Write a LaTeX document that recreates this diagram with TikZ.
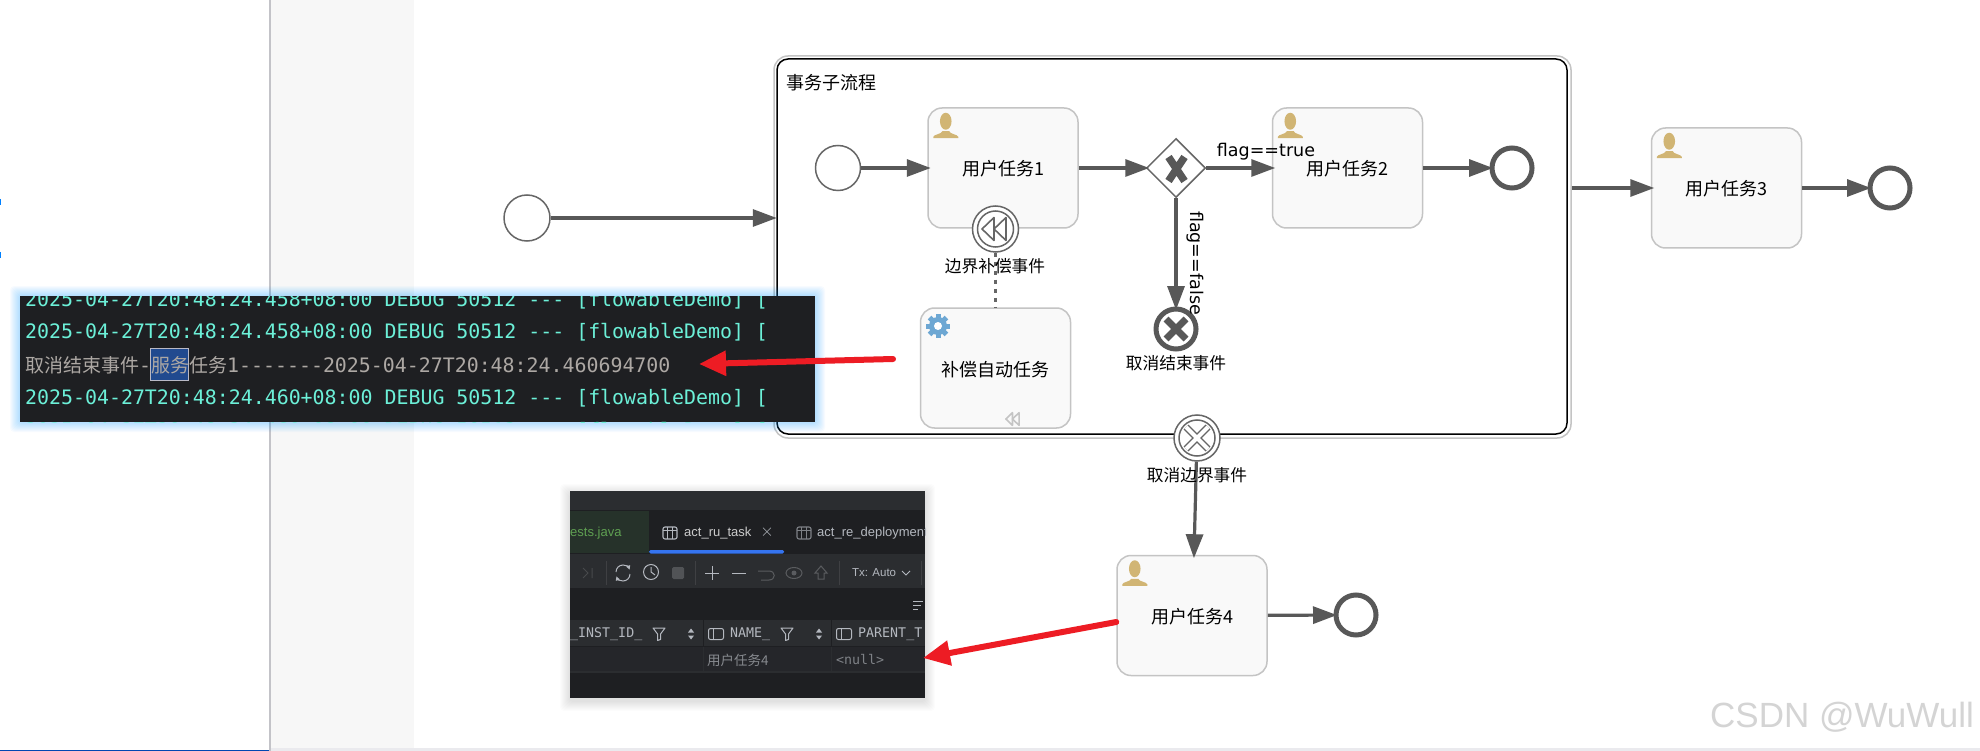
\documentclass[tikz,border=0pt]{standalone}
\usepackage{fontspec}
\usepackage{xcolor}
\usetikzlibrary{arrows.meta,shapes.geometric}
\setmainfont{Noto Sans CJK SC}
\newfontfamily\monofont{DejaVu Sans Mono}
\newfontfamily\uifont{Liberation Sans}
\newfontfamily\flagfont{DejaVu Sans}
\definecolor{flowgray}{HTML}{585858}
\definecolor{ringgray}{HTML}{666666}
\definecolor{taskfill}{HTML}{F9F9F9}
\definecolor{taskline}{HTML}{C4C4C4}
\definecolor{personcol}{HTML}{D1B574}
\definecolor{gearcol}{HTML}{6DA7D3}
\definecolor{arrowred}{HTML}{ED1C24}
\definecolor{logbg}{HTML}{1E1F22}
\definecolor{logcyan}{HTML}{6CF0D8}
\definecolor{loggray}{HTML}{ADA8A4}
\definecolor{loghigh}{HTML}{214A8F}
\definecolor{barbg}{HTML}{2B2D30}
\definecolor{rowbg}{HTML}{25262A}
\definecolor{iconcol}{HTML}{B4B8BF}
\definecolor{tabgreen}{HTML}{26322A}
\definecolor{javagreen}{HTML}{5FA052}
\definecolor{tabblue}{HTML}{3574F0}
\tikzset{
  tasknode/.style={rectangle, rounded corners=14pt, draw=taskline, fill=taskfill, line width=1.5pt, minimum width=150pt, minimum height=120pt, inner sep=0pt, text height=18pt, text depth=2pt, font=\fontsize{18}{20}\selectfont},
  startevent/.style={circle, draw=ringgray, fill=white, line width=1.5pt, minimum size=45pt, inner sep=0pt},
  endevent/.style={circle, draw=flowgray, fill=white, line width=5pt, minimum size=40pt, inner sep=0pt},
  boundaryevent/.style={circle, draw=ringgray, fill=white, line width=1.5pt, minimum size=46pt, inner sep=0pt},
  gatewaynode/.style={diamond, draw=ringgray, fill=white, line width=1.5pt, minimum width=59pt, minimum height=59pt, inner sep=0pt},
  flowline/.style={draw=flowgray, line width=3.2pt, shorten >=-3.5pt, -{Triangle[length=24pt,width=17pt]}},
  assocline/.style={draw=ringgray, line width=3.5pt, dash pattern=on 4pt off 5pt},
  redarrow/.style={draw=arrowred, line width=6pt, line cap=round, -{Triangle[length=27pt,width=24pt]}},
  eventlabel/.style={inner sep=0pt, font=\fontsize{16.7}{20}\selectfont},
  loglabel/.style={anchor=west, inner sep=0pt, text=logcyan, font=\monofont\fontsize{19.9}{22}\selectfont},
  uilabel/.style={inner sep=0pt, font=\uifont\fontsize{13}{15}\selectfont},
  collabel/.style={inner sep=0pt, anchor=west, text=iconcol, font=\monofont\fontsize{13.3}{15}\selectfont},
  toolicon/.style={draw=iconcol, line width=1pt},
  personicon/.pic={
    \fill[personcol] (18.5,14) ellipse (5.8pt and 8.5pt);
    \fill[personcol] (6,31) -- (6,29.5) .. controls (7,27) and (14,27) .. (15,24) -- (22,24) .. controls (23,27) and (30,27) .. (31,29.5) -- (31,31) -- cycle;
  },
  gearicon/.pic={
    \foreach \a in {0,45,...,315} \draw[gearcol, line width=5pt] (0,0) -- (\a:12pt);
    \fill[gearcol] (0,0) circle (9pt);
    \fill[white] (0,0) circle (4pt);
  },
  compicon/.pic={
    \draw[line width=1.6pt, line join=round] (-13,0) -- (-1,-11.5) -- (-1,11.5) -- cycle;
    \draw[line width=1.6pt, line join=round] (-1,0) -- (11,-11.5) -- (11,11.5) -- cycle;
  },
  tableicon/.pic={
    \draw[line width=1.1pt, rounded corners=2pt] (-7,-6) rectangle (7,6);
    \draw[line width=1.1pt] (-7,-2.5) -- (7,-2.5) (-2.3,-6) -- (-2.3,6) (2.3,-6) -- (2.3,6);
  },
  colicon/.pic={
    \draw[toolicon, rounded corners=2pt] (-7.5,-5.5) rectangle (7.5,5.5);
    \draw[toolicon] (-2.5,-5.5) -- (-2.5,5.5);
  },
  filtericon/.pic={
    \draw[toolicon, line join=round] (-6,-6) -- (6,-6) -- (1.5,0) -- (1.5,5.5) -- (-1.5,6.5) -- (-1.5,0) -- cycle;
  },
  sorticon/.pic={
    \fill[iconcol] (-3,-1.5) -- (3,-1.5) -- (0,-5.5) -- cycle;
    \fill[iconcol] (-3,1.5) -- (3,1.5) -- (0,5.5) -- cycle;
  },
}
\begin{document}
\begin{tikzpicture}[x=1pt,y=-1pt]
\useasboundingbox (0,0) rectangle (1980,751);
\clip (0,0) rectangle (1980,751);

% page behind the diagram
\fill[white] (0,0) rectangle (1980,751);
\fill[black!3.2] (271,0) rectangle (414,748);
\fill[blue!10!gray!15] (271,748) rectangle (1980,751);
\fill[blue!60!cyan!70!black] (0,749.5) rectangle (269,751);
\draw[blue!5!gray!45, line width=2pt] (270,0) -- (270,751);
\draw[blue!50!cyan, line width=0.7pt] (0.4,199) -- (0.4,205);
\draw[blue!50!cyan, line width=0.7pt] (0.4,252) -- (0.4,258);

% sub process
\node[rectangle, rounded corners=14pt, draw=taskline, line width=1.5pt, minimum width=797pt, minimum height=382pt] (subOuter) at (1172.5,247) {};
\node[rectangle, rounded corners=11pt, draw=black, line width=1.5pt, minimum width=790pt, minimum height=375pt] (subInner) at (1172,246.5) {};
\node[inner sep=0pt, anchor=west, font=\fontsize{18}{20}\selectfont] (subTitle) at (786,83) {事务子流程};

% events and tasks
\node[startevent, minimum size=46pt] (startMain) at (527,218) {};
\node[startevent] (startSub) at (838,168) {};
\node[tasknode] (taskOne) at (1003,168) {用户任务1};
\node[gatewaynode] (gateX) at (1176,168) {};
\node[tasknode] (taskTwo) at (1347.5,168) {用户任务2};
\node[endevent] (endTwo) at (1512,168) {};
\node[tasknode] (taskThree) at (1726.5,188) {用户任务3};
\node[endevent] (endThree) at (1890,188) {};
\node[tasknode] (taskComp) at (995.5,368) {补偿自动任务};
\node[endevent, minimum size=40pt] (endCancel) at (1176,329) {};
\node[tasknode] (taskFour) at (1192,615.5) {用户任务4};
\node[endevent] (endFour) at (1356,615) {};
\node[boundaryevent] (compEvent) at (995.5,229) {};
\node[boundaryevent] (cancelEvent) at (1197,438) {};

% flows
\draw[flowline] (startMain) -- (startMain -| subOuter.west);
\draw[flowline] (startSub) -- (taskOne);
\draw[flowline] (taskOne) -- (gateX);
\draw[flowline] (gateX) -- (taskTwo);
\draw[flowline] (gateX) -- (endCancel);
\draw[flowline] (taskTwo) -- (endTwo);
\draw[flowline] (subOuter.east |- taskThree) -- (taskThree);
\draw[flowline] (taskThree) -- (endThree);
\draw[flowline] (cancelEvent) -- ([xshift=2pt]taskFour.north);
\draw[flowline] (taskFour) -- (endFour);
\draw[assocline] (compEvent) -- (taskComp);

% icons
\pic at (taskOne.north west) {personicon};
\pic at (taskTwo.north west) {personicon};
\pic at (taskThree.north west) {personicon};
\pic at (taskFour.north west) {personicon};
\pic at (938,326) {gearicon};
\pic[draw=taskline, scale=0.55] at (1013,419) {compicon};
\draw[ringgray, line width=1.5pt] (compEvent) circle (18pt);
\pic[draw=ringgray] at (995,229) {compicon};
\draw[flowgray, line width=7.5pt] (1168.5,157) -- (1184.5,181) (1184.5,157) -- (1168.5,181);
\draw[flowgray, line width=7pt] (1166,319) -- (1186,339) (1186,319) -- (1166,339);
\draw[ringgray, line width=1.5pt] (cancelEvent) circle (18pt);
\draw[ringgray, line width=7pt] (1186,427) -- (1208,449) (1208,427) -- (1186,449);
\draw[white, line width=4pt] (1186,427) -- (1208,449) (1208,427) -- (1186,449);

% labels
\node[eventlabel] (compLabel) at (995,266) {边界补偿事件};
\node[eventlabel] (cancelEndLabel) at (1176,363) {取消结束事件};
\node[eventlabel] (cancelLabel) at (1197,475) {取消边界事件};
\node[inner sep=0pt, font=\flagfont\fontsize{17.5}{20}\selectfont] (flagTrue) at (1266,152) {flag==true};
\node[inner sep=0pt, rotate=-90, font=\flagfont\fontsize{17.5}{20}\selectfont] (flagFalse) at (1195,263) {flag==false};

% console screenshot
\foreach \g in {1,...,10} \fill[blue!40!cyan, opacity=0.03, rounded corners=4pt] (20-\g,296-\g) rectangle (815+\g,422+\g);
\begin{scope}
\clip (20,296) rectangle (815,422);
\fill[logbg] (20,296) rectangle (815,422);
\fill[loghigh, draw=blue!10!gray!50, line width=1pt] (150.5,348.5) rectangle (188,380.5);
\node[loglabel] (logOne) at (25,300) {2025-04-27T20:48:24.458+08:00 DEBUG 50512 --- [flowableDemo] [};
\node[loglabel] (logTwo) at (25,332) {2025-04-27T20:48:24.458+08:00 DEBUG 50512 --- [flowableDemo] [};
\node[loglabel, text=loggray] (logThree) at (25,365) {{\rmfamily\fontsize{19}{22}\selectfont 取消结束事件}-{\rmfamily\fontsize{19}{22}\selectfont 服务任务}1-------2025-04-27T20:48:24.460694700};
\node[loglabel] (logFour) at (25,398) {2025-04-27T20:48:24.460+08:00 DEBUG 50512 --- [flowableDemo] [};
\node[loglabel] (logFive) at (25,431) {2025-04-27T20:48:24.460+08:00 DEBUG 50512 --- [flowableDemo] [};
\end{scope}
\coordinate (logTail) at (893,359);
\coordinate (logTip) at (699,364);
\draw[redarrow] (logTail) -- (logTip);

% database screenshot
\foreach \g in {1,...,10} \fill[black, opacity=0.012, rounded corners=4pt] (570-\g,491-\g+3) rectangle (925+\g,698+\g+3);
\begin{scope}
\clip (570,491) rectangle (925,698);
\fill[logbg] (570,491) rectangle (925,698);
\fill[barbg] (570,491) rectangle (925,510);
\fill[tabgreen] (570,511) rectangle (649,553);
\node[uilabel, anchor=west, text=javagreen] (tabJava) at (570,533) {ests.java};
\pic[draw=iconcol] at (670,533) {tableicon};
\node[uilabel, anchor=west, text=white!80!black] (tabTask) at (684,533) {act\_ru\_task};
\node[uilabel, text=iconcol, font=\uifont\fontsize{19}{20}\selectfont] (tabClose) at (767,532) {$\times$};
\fill[tabblue, rounded corners=1.5pt] (649,550) rectangle (784,553.5);
\pic[draw=iconcol!70!black] at (804,533) {tableicon};
\node[uilabel, anchor=west, text=iconcol] (tabDeploy) at (817,533) {act\_re\_deployment};
\fill[barbg] (570,554) rectangle (925,588);
% toolbar
\draw[toolicon, draw=iconcol!40!black] (583,568) -- (588,573) -- (583,578) (592,568) -- (592,578);
\draw[draw=iconcol!35!black, line width=1pt] (606,561) -- (606,585) (695,561) -- (695,585) (839,561) -- (839,585) (921,561) -- (921,585);
\draw[toolicon, -{Triangle[length=4pt,width=4pt]}] (616,572) arc[start angle=180, end angle=20, radius=7pt];
\draw[toolicon, -{Triangle[length=4pt,width=4pt]}] (630,574) arc[start angle=0, end angle=-160, radius=7pt];
\draw[toolicon] (651,572) circle (7.5pt);
\draw[toolicon] (651,567) -- (651,572) -- (655,575);
\fill[iconcol!45!black, rounded corners=1.5pt] (672,567) rectangle (684,579);
\draw[toolicon] (705,573) -- (719,573) (712,566) -- (712,580);
\draw[toolicon] (732,573) -- (746,573);
\draw[toolicon, draw=iconcol!50!black] (758,571) -- (769,571) .. controls (776,571) and (776,580) .. (769,580) -- (761,580);
\draw[toolicon, draw=iconcol!50!black] (794,573) ellipse (8pt and 5.5pt);
\fill[iconcol!50!black] (794,573) circle (2.5pt);
\draw[toolicon, draw=iconcol!50!black] (821,566) -- (827,573) -- (824,573) -- (824,579) -- (818,579) -- (818,573) -- (815,573) -- cycle;
\node[uilabel, anchor=west, text=iconcol, font=\uifont\fontsize{11.5}{14}\selectfont] (txLabel) at (852,573) {Tx: Auto};
\draw[toolicon] (902,571) -- (906,575) -- (910,571);
\draw[toolicon] (913,601) -- (923,601) (913,605) -- (921,605) (913,609) -- (918,609);
% table head
\fill[barbg] (570,620) rectangle (925,646);
\fill[logbg] (702.5,620) rectangle (704,646);
\fill[logbg] (830.5,620) rectangle (832,646);
\node[collabel] (colInst) at (570,634) {\_INST\_ID\_};
\pic at (659,634) {filtericon};
\pic at (691,634) {sorticon};
\pic at (716,634) {colicon};
\node[collabel] (colName) at (730,634) {NAME\_};
\pic at (787,634) {filtericon};
\pic at (819,634) {sorticon};
\pic at (844,634) {colicon};
\node[collabel] (colParent) at (858,634) {PARENT\_T};
% table row
\fill[rowbg] (570,647) rectangle (925,671);
\fill[barbg] (570,671) rectangle (925,672.5);
\fill[barbg] (703,647) rectangle (704,671);
\fill[barbg] (831,647) rectangle (832,671);
\node[inner sep=0pt, anchor=west, text=iconcol!75!black, font=\fontsize{13.5}{15}\selectfont] (cellName) at (707,660) {用户任务4};
\node[collabel, text=iconcol!70!black] (cellNull) at (836,660) {<null>};
\end{scope}
\coordinate (dbTip) at (923,658);
\draw[redarrow] (taskFour.west |- 0,622) -- (dbTip);

% watermark
\node[inner sep=0pt, text=black!17, font=\uifont\fontsize{35}{38}\selectfont] (markText) at (1842,717) {CSDN @WuWull};
\end{tikzpicture}
\end{document}
